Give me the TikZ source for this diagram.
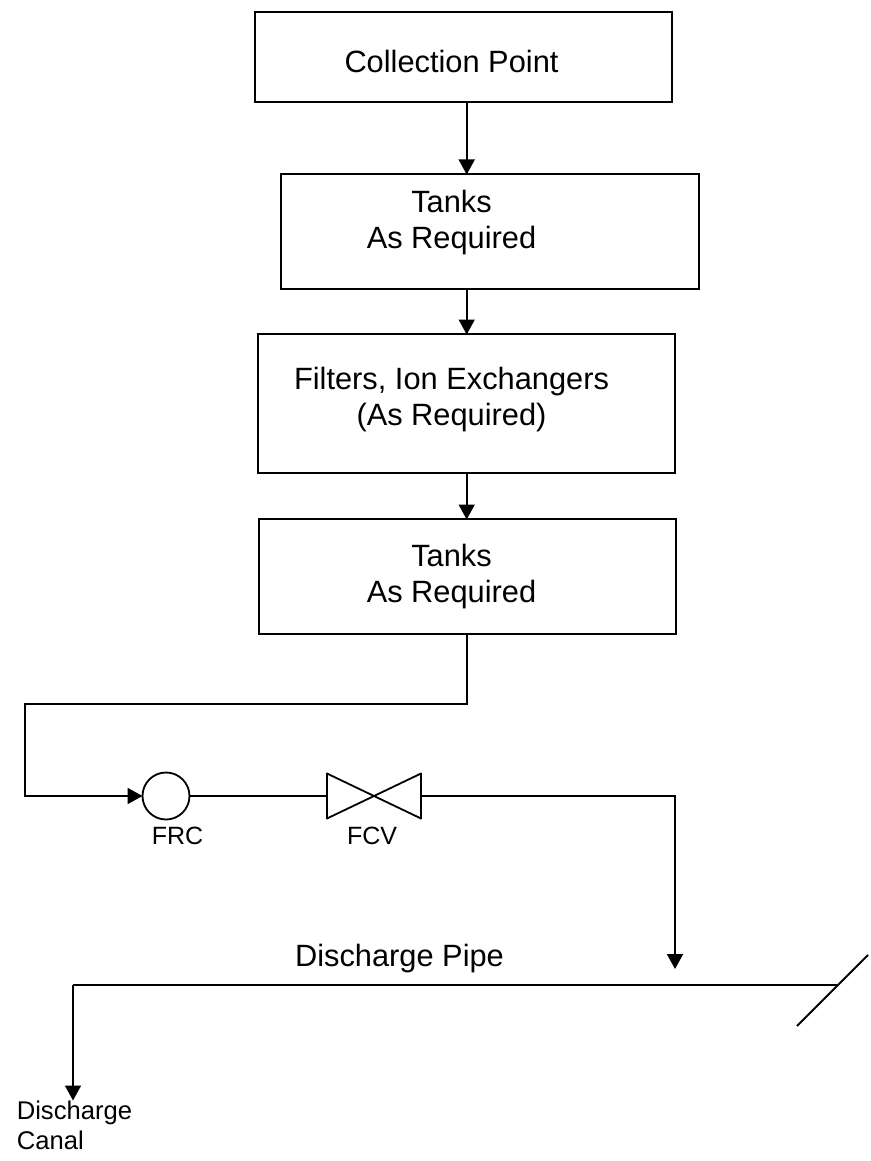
\documentclass[tikz,border=0pt]{standalone}
\usepackage{fontspec}
\setmainfont{Liberation Sans}
\usetikzlibrary{arrows.meta}
\begin{document}
\begin{tikzpicture}[x=1pt,y=-1pt,
  box/.style={draw=black,line width=2pt,inner sep=0pt,outer sep=0pt,minimum width=#1},
  lab/.style={font=\fontsize{30.8}{35.5}\selectfont,align=center,inner sep=0pt,anchor=base},
  tag/.style={font=\fontsize{25}{30}\selectfont,align=center,inner sep=0pt,anchor=base},
  flow/.style={draw=black,line width=1.7pt,-{Triangle[length=15pt,width=16pt]},shorten >=-0.5pt},
  pipe/.style={draw=black,line width=2pt,line join=miter}]
\useasboundingbox (0,0) rectangle (870,1161);
% boxes
\node[box=417pt,minimum height=90pt] (cp) at (463.5,57) {};
\node[box=418pt,minimum height=115pt] (t1) at (490,231.5) {};
\node[box=417pt,minimum height=139pt] (f) at (466.5,403.5) {};
\node[box=417pt,minimum height=115pt] (t2) at (467,576.5) {};
% box texts
\node[lab] (cpt) at (451.5,72.7) {Collection Point};
\node[lab] (t1t) at (451.5,248) {Tanks\\As Required};
\node[lab] (ft) at (451.5,425) {Filters, Ion Exchangers\\(As Required)};
\node[lab] (t2t) at (451.5,602) {Tanks\\As Required};
% instruments
\node[draw=black,line width=1.8pt,circle,inner sep=0pt,outer sep=0pt,minimum size=47pt] (frc) at (166,796) {};
\node[inner sep=0pt,outer sep=0pt,minimum width=94pt,minimum height=45pt] (fcv) at (374,796) {};
\draw[pipe,line width=1.8pt,line join=round] (fcv.north west) -- (fcv.south east) -- (fcv.north east) -- (fcv.south west) -- cycle;
\node[tag] (frct) at (177.5,844) {FRC};
\node[tag] (fcvt) at (372,844) {FCV};
% coordinates
\coordinate (spine) at (466.7,0);
\coordinate (leftturn) at (25,703.5);
\coordinate (dropright) at (675,796);
\coordinate (tipright) at (675,969);
\coordinate (pipeL) at (73,985);
\coordinate (pipeR) at (837,985);
\coordinate (slashA) at (797,1026);
\coordinate (slashB) at (868,955);
\coordinate (tipleft) at (73,1100);
% connectors
\draw[flow] (cp.south -| spine) -- (t1.north -| spine);
\draw[flow] (t1.south -| spine) -- (f.north -| spine);
\draw[flow] (f.south -| spine) -- (t2.north -| spine);
\draw[pipe,-{Triangle[length=15pt,width=16pt]}] (t2.south -| spine) |- (leftturn) |- (frc.west);
\draw[pipe] (frc.east) -- (fcv.west);
\draw[pipe,-{Triangle[length=15pt,width=16pt]}] (fcv.east) -- (dropright) -- (tipright);
\draw[pipe] (pipeR) -- (pipeL);
\draw[flow] (pipeL) -- (tipleft);
\draw[pipe] (slashA) -- (slashB);
% labels
\node[lab] (dp) at (399.5,966) {Discharge Pipe};
\node[tag,align=left,font=\fontsize{25.6}{30}\selectfont] (dc) at (74,1149) {\hspace{18pt}Discharge\\\hspace{18pt}Canal\hphantom{harge}};
\end{tikzpicture}
\end{document}
